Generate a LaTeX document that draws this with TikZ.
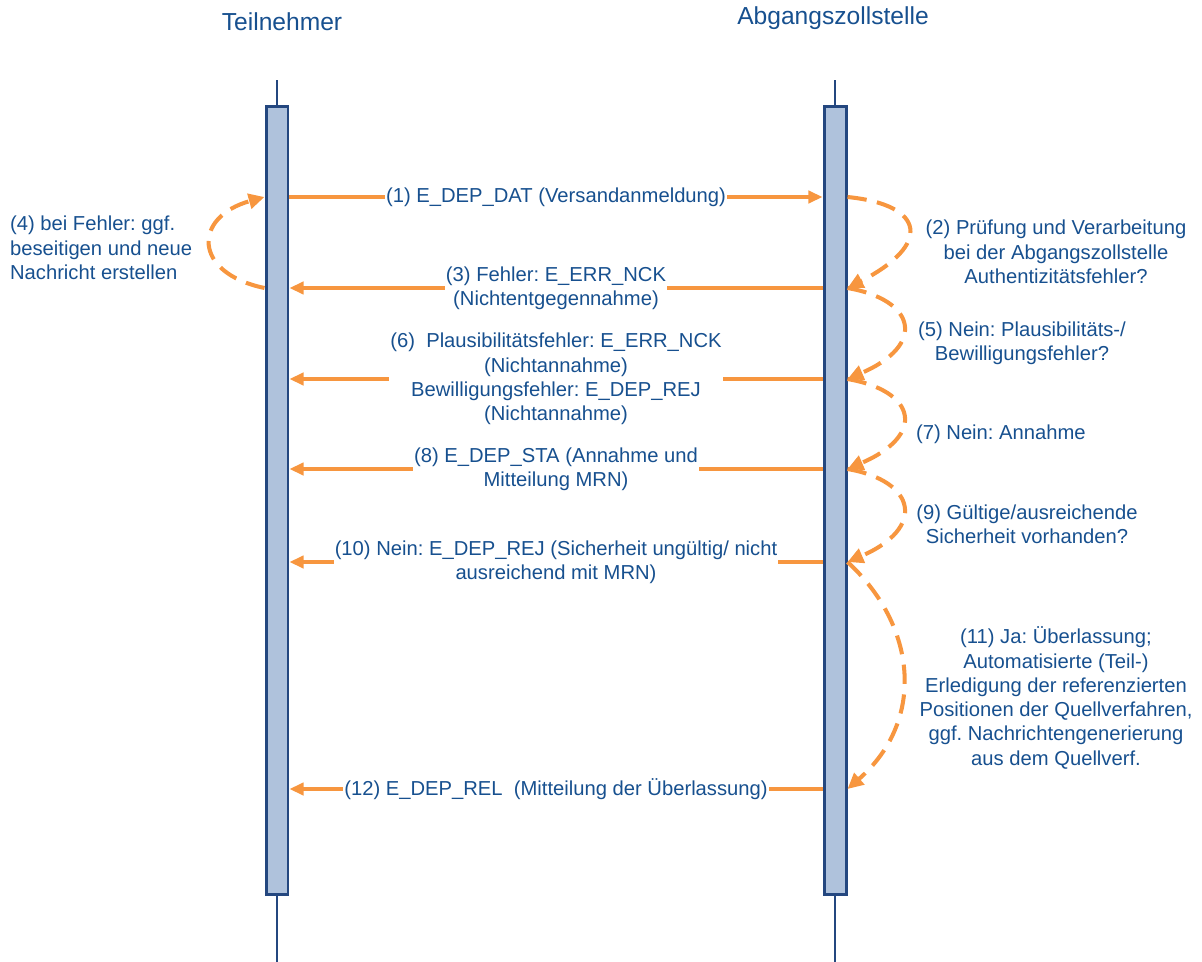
\documentclass[tikz,border=0pt]{standalone}
\usepackage{fontspec}
\setmainfont{Liberation Sans}
\usetikzlibrary{arrows.meta, positioning}
\definecolor{txtblue}{HTML}{17508F}
\definecolor{msgorange}{HTML}{F7963F}
\definecolor{barfill}{HTML}{AFC2DC}
\definecolor{bardraw}{HTML}{24477F}
\frenchspacing

\begin{document}
\begin{tikzpicture}[x=0.02cm, y=-0.02cm,
  title/.style={font=\fontsize{14}{17}\selectfont, text=txtblue},
  lbl/.style={font=\fontsize{11.5}{13.8}\selectfont, text=txtblue,
              align=center, inner sep=1pt},
  msglbl/.style={lbl, fill=white, inner sep=0.5pt},
  bar/.style={rectangle, draw=bardraw, fill=barfill, line width=1.7pt,
              minimum width=0.44cm, minimum height=15.78cm, inner sep=0pt},
  life/.style={bardraw, line width=1.4pt},
  msg/.style={-{Triangle[length=8pt,width=7pt]}, msgorange, line width=1.8pt},
  proc/.style={-{Triangle[length=9pt,width=8.5pt]}, msgorange,
               line width=2.3pt, dash pattern=on 11pt off 6pt},
]
  \useasboundingbox (0,0) rectangle (1202,962);

  % lifelines
  \node[title] (teiln)  at (282,22) {Teilnehmer};
  \node[title] (abgang) at (833,18) {Abgangszollstelle};

  \node[bar] (tnbar) at (277,500.5) {};
  \node[bar] (azbar) at (835,500.5) {};

  \draw[life] (tnbar.north) -- (tnbar.north |- 0,80);
  \draw[life] (tnbar.south) -- (tnbar.south |- 0,962);
  \draw[life] (azbar.north) -- (azbar.north |- 0,80);
  \draw[life] (azbar.south) -- (azbar.south |- 0,962);

  % message levels
  \coordinate (s1) at (0,197);
  \coordinate (s2) at (0,288);
  \coordinate (s3) at (0,379);
  \coordinate (s4) at (0,469);
  \coordinate (s5) at (0,562);
  \coordinate (s6) at (0,789);

  % messages
  \draw[msg] (tnbar.east |- s1) -- node[msglbl, midway] (m1)
    {(1) E\_DEP\_DAT (Versandanmeldung)} (azbar.west |- s1);
  \draw[msg] (azbar.west |- s2) -- node[msglbl, midway] (m3)
    {(3) Fehler: E\_ERR\_NCK\\(Nichtentgegennahme)} (tnbar.east |- s2);
  \draw[msg] (azbar.west |- s3) -- node[msglbl, midway] (m6)
    {(6)\ \ Plausibilitätsfehler: E\_ERR\_NCK\\(Nichtannahme)\\Bewilligungsfehler: E\_DEP\_REJ\\(Nichtannahme)} (tnbar.east |- s3);
  \draw[msg] (azbar.west |- s4) -- node[msglbl, midway] (m8)
    {(8) E\_DEP\_STA (Annahme und\\Mitteilung MRN)} (tnbar.east |- s4);
  \draw[msg] (azbar.west |- s5) -- node[msglbl, midway] (m10)
    {(10) Nein: E\_DEP\_REJ (Sicherheit ungültig/ nicht\\ausreichend mit MRN)} (tnbar.east |- s5);
  \draw[msg] (azbar.west |- s6) -- node[msglbl, midway] (m12)
    {(12) E\_DEP\_REL\ \ (Mitteilung der Überlassung)} (tnbar.east |- s6);

  % processing steps
  \draw[proc] (azbar.east |- s1) .. controls +(79,8) and +(84,-43) .. (azbar.east |- s2);
  \draw[proc] (azbar.east |- s2) .. controls +(69,12) and +(79,-34) .. (azbar.east |- s3);
  \draw[proc] (azbar.east |- s3) .. controls +(69,12) and +(79,-34) .. (azbar.east |- s4);
  \draw[proc] (azbar.east |- s4) .. controls +(69,12) and +(79,-34) .. (azbar.east |- s5);
  \draw[proc] (azbar.east |- s5) .. controls +(69,63) and +(79,-69) .. (azbar.east |- s6);
  \draw[proc] (tnbar.west |- s2) .. controls +(-72,-15) and +(-72,20) .. (tnbar.west |- s1);

  \node[lbl] (l2) at (1056,252)
    {(2) Prüfung und Verarbeitung\\bei der Abgangszollstelle\\Authentizitätsfehler?};
  \node[lbl] (l5) at (1022,343) {(5) Nein: Plausibilitäts-/\\Bewilligungsfehler?};
  \node[lbl, anchor=west] (l7) at (914,434) {(7) Nein: Annahme};
  \node[lbl] (l9) at (1027,524) {(9) Gültige/ausreichende\\Sicherheit vorhanden?};
  \node[lbl] (l11) at (1056,698)
    {(11) Ja: Überlassung;\\Automatisierte (Teil-)\\Erledigung der referenzierten\\Positionen der Quellverfahren,\\ggf. Nachrichtengenerierung\\aus dem Quellverf.};
  \node[lbl, anchor=west, align=left] (l4) at (8,248)
    {(4) bei Fehler: ggf.\\beseitigen und neue\\Nachricht erstellen};
\end{tikzpicture}
\end{document}
